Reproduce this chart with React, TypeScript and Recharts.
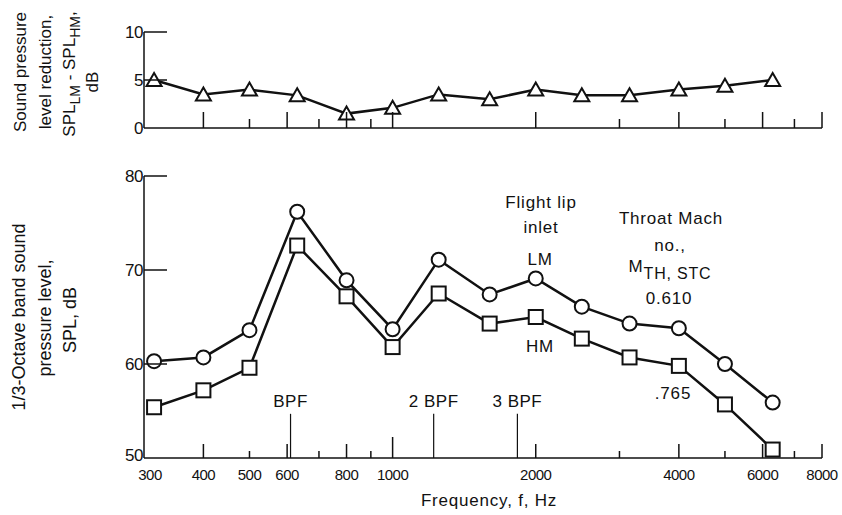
import React from 'react'
import { LineChart, Line, XAxis, YAxis, ReferenceLine } from 'recharts'

// 1/3-octave band centre frequencies, Hz
const bandFreqs = [315, 400, 500, 630, 800, 1000, 1250, 1600, 2000, 2500, 3150, 4000, 5000, 6300]
// SPL_LM - SPL_HM, dB
const reduction = [5.0, 3.5, 4.0, 3.4, 1.5, 2.1, 3.5, 3.0, 4.0, 3.4, 3.4, 4.0, 4.4, 5.0]
// throat Mach 0.610 (LM) and 0.765 (HM), dB
const splLM = [60.3, 60.7, 63.6, 76.2, 68.9, 63.7, 71.1, 67.4, 69.1, 66.1, 64.3, 63.8, 60.0, 55.9]
const splHM = [55.4, 57.2, 59.6, 72.6, 67.2, 61.8, 67.5, 64.3, 65.0, 62.7, 60.7, 59.8, 55.7, 50.9]

const freqTicks = [300, 400, 500, 600, 700, 800, 900, 1000, 2000, 3000, 4000, 5000, 6000, 7000, 8000]
const freqLabels = [300, 400, 500, 600, 800, 1000, 2000, 4000, 6000, 8000]
const majorTicks = [400, 600, 800, 1000, 2000, 4000, 6000, 8000]
const topYTicks = [0, 5, 10]
const bottomYTicks = [50, 60, 70, 80]

const bladePassing = [
  { f: 610, label: 'BPF' },
  { f: 1220, label: '2 BPF' },
  { f: 1830, label: '3 BPF' },
]

const topData = bandFreqs.map((f, i) => ({ f, d: reduction[i] }))
const bottomData = bandFreqs.map((f, i) => ({ f, lm: splLM[i], hm: splHM[i] }))

const INK = '#111'
const FONT = '"Liberation Sans", Arial, sans-serif'

const TopXTick = (props: any) => {
  const { x, y, payload } = props
  const v = payload.value
  if (v === 300) return <g />
  const len = majorTicks.includes(v) ? 16 : 9
  return <line x1={x} y1={y} x2={x} y2={y - len} stroke={INK} strokeWidth={1.5} />
}

const BottomXTick = (props: any) => {
  const { x, y, payload } = props
  const v = payload.value
  const len = v === 300 ? 0 : v === 1000 ? 21 : majorTicks.includes(v) ? 14 : 7
  // the first label sits a little right of the corner, clear of the "50"
  const lx = v === 300 ? x + 6 : x
  return (
    <g>
      {len > 0 && <line x1={x} y1={y} x2={x} y2={y - len} stroke={INK} strokeWidth={1.5} />}
      {freqLabels.includes(v) && (
        <text x={lx} y={y + 22} textAnchor="middle" fontSize={15} fontFamily={FONT} fill={INK} letterSpacing={-0.5}>
          {v}
        </text>
      )}
    </g>
  )
}

const makeYTick = (lowest: number) => (props: any) => {
  const { x, y, payload } = props
  const v = payload.value
  return (
    <g>
      {v !== lowest && <line x1={x} y1={y} x2={x + 23} y2={y} stroke={INK} strokeWidth={1.5} />}
      <text x={x - 1} y={v === lowest && lowest === 50 ? y + 3 : y + 6} textAnchor="end" fontSize={17} fontFamily={FONT} fill={INK} letterSpacing={-0.5}>
        {v}
      </text>
    </g>
  )
}

const triangleDot = (props: any) => {
  const { cx, cy, index } = props
  const pts = `${cx},${cy - 7} ${cx - 7.5},${cy + 6} ${cx + 7.5},${cy + 6}`
  return <polygon key={`t-${index}`} points={pts} fill="#fff" stroke={INK} strokeWidth={2} />
}

const circleDot = (props: any) => {
  const { cx, cy, index } = props
  return <circle key={`c-${index}`} cx={cx} cy={cy} r={7} fill="#fff" stroke={INK} strokeWidth={2} />
}

const squareDot = (props: any) => {
  const { cx, cy, index } = props
  return <rect key={`s-${index}`} x={cx - 7} y={cy - 7} width={14} height={14} fill="#fff" stroke={INK} strokeWidth={2} />
}

const axisLine = { stroke: INK, strokeWidth: 1.5 }

export default function App() {
  return (
    <div style={{ position: 'absolute', left: 0, top: 0, width: 842, height: 515, background: '#fff', fontFamily: FONT }}>
      {/* upper panel: reduction */}
      <div style={{ position: 'absolute', left: 0, top: 0 }}>
        <LineChart width={842} height={150} data={topData} margin={{ top: 32, right: 20, bottom: 0, left: 0 }}>
          <XAxis
            dataKey="f"
            type="number"
            scale="log"
            domain={[300, 8000]}
            allowDataOverflow
            ticks={freqTicks}
            interval={0}
            tick={TopXTick}
            tickSize={0}
            tickMargin={0}
            tickLine={false}
            axisLine={axisLine}
            height={22}
          />
          <YAxis
            type="number"
            domain={[0, 10]}
            ticks={topYTicks}
            interval={0}
            tick={makeYTick(0)}
            tickSize={0}
            tickMargin={0}
            tickLine={false}
            axisLine={axisLine}
            width={144}
          />
          <Line dataKey="d" stroke={INK} strokeWidth={2.5} dot={triangleDot} activeDot={false} isAnimationActive={false} />
        </LineChart>
      </div>

      {/* lower panel: 1/3-octave SPL */}
      <div style={{ position: 'absolute', left: 0, top: 150 }}>
        <LineChart width={842} height={365} data={bottomData} margin={{ top: 26, right: 20, bottom: 0, left: 0 }}>
          <XAxis
            dataKey="f"
            type="number"
            scale="log"
            domain={[300, 8000]}
            allowDataOverflow
            ticks={freqTicks}
            interval={0}
            tick={BottomXTick}
            tickSize={0}
            tickMargin={0}
            tickLine={false}
            axisLine={axisLine}
            height={57}
          />
          <YAxis
            type="number"
            domain={[50, 80]}
            ticks={bottomYTicks}
            interval={0}
            tick={makeYTick(50)}
            tickSize={0}
            tickMargin={0}
            tickLine={false}
            axisLine={axisLine}
            width={144}
          />
          {bladePassing.map(b => (
            <ReferenceLine
              key={b.label}
              segment={[{ x: b.f, y: 50 }, { x: b.f, y: 54.7 }]}
              stroke={INK}
              strokeWidth={1.2}
              label={{ value: b.label, position: 'top', offset: 7, fontSize: 17, fill: INK, fontFamily: FONT, letterSpacing: 0.5 }}
            />
          ))}
          <Line dataKey="lm" stroke={INK} strokeWidth={2.5} dot={circleDot} activeDot={false} isAnimationActive={false} />
          <Line dataKey="hm" stroke={INK} strokeWidth={2.5} dot={squareDot} activeDot={false} isAnimationActive={false} />
        </LineChart>
      </div>

      {/* titles and annotations */}
      <svg width={842} height={515} style={{ position: 'absolute', left: 0, top: 0, pointerEvents: 'none' }}>
        <g fontFamily={FONT} fontSize={17} fill={INK} textAnchor="middle">
          <text transform="translate(26,72) rotate(-90)">Sound pressure</text>
          <text transform="translate(51,72) rotate(-90)">level reduction,</text>
          <text transform="translate(75,74) rotate(-90)">
            SPL<tspan fontSize={14} dy={5}>LM</tspan>
            <tspan dy={-5}> - SPL</tspan>
            <tspan fontSize={14} dy={5}>HM</tspan>
            <tspan dy={-5}>,</tspan>
          </text>
          <text transform="translate(98,82) rotate(-90)">dB</text>
        </g>
        <g fontFamily={FONT} fontSize={18} fill={INK} textAnchor="middle">
          <text transform="translate(25,317) rotate(-90)">1/3-Octave band sound</text>
          <text transform="translate(51,318) rotate(-90)">pressure level,</text>
          <text transform="translate(76,320) rotate(-90)">SPL, dB</text>
        </g>
        <g fontFamily={FONT} fontSize={17} fill={INK} textAnchor="middle" letterSpacing={0.8}>
          <text x={489} y={506}>Frequency, f, Hz</text>

          <text x={541} y={208}>Flight lip</text>
          <text x={541} y={233}>inlet</text>
          <text x={540} y={265}>LM</text>
          <text x={540} y={352}>HM</text>

          <text x={671} y={224}>Throat Mach</text>
          <text x={670} y={251}>no.,</text>
          <text x={670} y={272}>
            M<tspan fontSize={16} dy={7}>TH, STC</tspan>
          </text>
          <text x={669} y={304}>0.610</text>
          <text x={673} y={399}>.765</text>
        </g>
      </svg>
    </div>
  )
}
